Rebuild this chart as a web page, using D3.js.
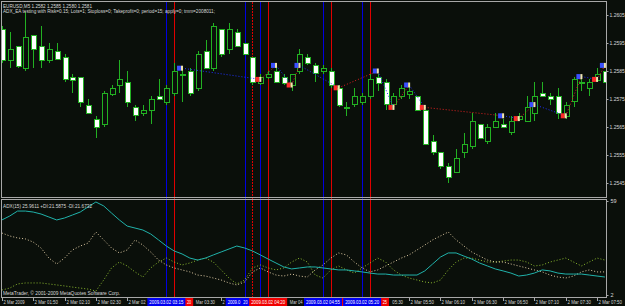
<!DOCTYPE html>
<html><head><meta charset="utf-8">
<script src="https://cdn.jsdelivr.net/npm/d3@7/dist/d3.min.js"></script>
<style>html,body{margin:0;padding:0;background:#0a0f0a;overflow:hidden}svg{display:block}</style>
</head><body>
<svg id="c" width="625" height="306"></svg>
<script>
// ---------- DATA ----------
const barCount = 78; // M5 bars, 2 Mar 2009 01:30 .. 07:55
const opens  = [1.2600,1.2589,1.2594,1.2586,1.2598,1.2594,1.2589,1.2592,1.2590,1.2583,1.2583,1.2573,1.2568,1.2566,1.2577,1.2580,1.2581,1.2572,1.2570,1.2571,1.2576,1.2574,1.2577,1.2584,1.2585,1.2579,1.2592,1.2586,1.2600,1.2593,1.2599,1.2595,1.2590,1.2581,1.2583,1.2585,1.2583,1.2580,1.2585,1.2590,1.2587,1.2585,1.2585,1.2579,1.2572,1.2573,1.2574,1.2576,1.2583,1.2581,1.2573,1.2576,1.2577,1.2576,1.2571,1.2560,1.2556,1.2551,1.2549,1.2556,1.2558,1.2566,1.2560,1.2565,1.2566,1.2563,1.2568,1.2567,1.2570,1.2577,1.2576,1.2576,1.2569,1.2574,1.2581,1.2579,1.2582,1.2585];
const highs  = [1.2601,1.2599,1.2594,1.2606,1.2598,1.2601,1.2595,1.2595,1.2591,1.2584,1.2583,1.2575,1.2569,1.2578,1.2580,1.2589,1.2585,1.2573,1.2573,1.2576,1.2582,1.2580,1.2588,1.2586,1.2586,1.2592,1.2596,1.2602,1.2600,1.2602,1.2600,1.2595,1.2590,1.2584,1.2585,1.2586,1.2584,1.2584,1.2593,1.2591,1.2588,1.2587,1.2586,1.2580,1.2574,1.2579,1.2577,1.2584,1.2584,1.2582,1.2577,1.2580,1.2580,1.2576,1.2571,1.2562,1.2556,1.2552,1.2557,1.2563,1.2570,1.2566,1.2566,1.2570,1.2568,1.2569,1.2570,1.2576,1.2581,1.2581,1.2577,1.2579,1.2574,1.2583,1.2582,1.2582,1.2586,1.2585];
const lows   = [1.2588,1.2586,1.2586,1.2585,1.2586,1.2586,1.2588,1.2589,1.2581,1.2577,1.2572,1.2570,1.2561,1.2565,1.2576,1.2577,1.2572,1.2567,1.2569,1.2566,1.2575,1.2573,1.2576,1.2574,1.2576,1.2578,1.2586,1.2585,1.2590,1.2591,1.2594,1.2591,1.2580,1.2580,1.2582,1.2581,1.2580,1.2578,1.2584,1.2587,1.2581,1.2584,1.2579,1.2572,1.2569,1.2572,1.2573,1.2575,1.2578,1.2571,1.2572,1.2575,1.2575,1.2571,1.2559,1.2555,1.2550,1.2545,1.2549,1.2554,1.2557,1.2561,1.2559,1.2565,1.2565,1.2562,1.2567,1.2567,1.2567,1.2576,1.2573,1.2568,1.2568,1.2572,1.2578,1.2576,1.2581,1.2581];
const closes = [1.2589,1.2593,1.2587,1.2597,1.2593,1.2589,1.2593,1.2589,1.2582,1.2582,1.2574,1.2570,1.2565,1.2577,1.2579,1.2582,1.2574,1.2569,1.2571,1.2575,1.2575,1.2579,1.2585,1.2584,1.2577,1.2591,1.2586,1.2601,1.2591,1.2600,1.2594,1.2591,1.2581,1.2583,1.2584,1.2581,1.2581,1.2584,1.2591,1.2588,1.2584,1.2586,1.2580,1.2573,1.2572,1.2576,1.2576,1.2582,1.2581,1.2573,1.2576,1.2579,1.2578,1.2571,1.2559,1.2556,1.2551,1.2547,1.2554,1.2559,1.2567,1.2561,1.2565,1.2567,1.2565,1.2567,1.2569,1.2572,1.2576,1.2576,1.2575,1.2570,1.2573,1.2582,1.2581,1.2581,1.2584,1.2581];

const timeLabelBars = [0,4,8,12,16,20,24,28,32,36,40,44,48,52,56,60,64,68,72,76];
const timeLabels = ["2 Mar 2009","2 Mar 01:50","2 Mar 02:10","2 Mar 02:30","2 Mar 02:50","2 Mar 03:10","2 Mar 03:30","2 Mar 03:50","2 Mar 04:10","2 Mar 04:30","2 Mar 04:50","2 Mar 05:10","2 Mar 05:30","2 Mar 05:50","2 Mar 06:10","2 Mar 06:30","2 Mar 06:50","2 Mar 07:10","2 Mar 07:30","2 Mar 07:50"];
const priceTicks = [1.2605,1.2595,1.2585,1.2575,1.2565,1.2555,1.2545];

// vertical marker lines (in drawing order)
const vlineBars   = [22,21,32,31,33,34,42,41,47,46];
const vlineColors = ["red","blue","red","blue","blue","red","red","blue","red","blue"];
const vlineLabels = ["2009.03.02 03:20","2009.03.02 03:15","2009.03.02 04:10","2009.03.02 04:05","2009.03.02 04:15","2009.03.02 04:20","2009.03.02 05:00","2009.03.02 04:55","2009.03.02 05:25","2009.03.02 05:20"];

// trade arrows (stop-and-reverse)
const tradeBars   = [23,33,35,37,38,43,48,50,52,54,64,66,68,72,74,76,77];
const tradePrices = [1.2586,1.2582,1.2587,1.2580,1.2587,1.2579,1.2585,1.2572,1.2580,1.2572,1.2569,1.2568,1.2573,1.2569,1.2583,1.2582,1.2587];
const tradeTypes  = ["buy","sell","buy","sell","buy","sell","buy","sell","buy","sell","buy","sell","buy","sell","buy","sell","buy"];

// ADX(15) indicator
const adx = [47.5,49.9,52.9,52.9,52.3,51.1,49.3,47.5,48.7,50.5,52.3,55.4,58.4,56.0,51.7,47.5,43.8,42.6,41.4,39.0,35.4,31.7,28.7,26.9,24.4,23.2,24.4,26.3,28.1,29.9,31.7,30.5,28.7,26.3,23.8,21.4,19.0,17.8,18.4,19.0,19.0,18.4,17.8,17.2,17.2,16.6,16.0,15.3,14.7,14.7,14.1,14.1,14.1,14.1,16.6,20.8,25.0,27.5,27.5,25.6,23.8,21.4,19.6,17.8,16.6,15.3,13.5,14.1,15.3,17.2,16.6,15.3,14.7,14.7,14.7,14.1,13.5,12.9];
const plusDI = [5.0,6.2,8.7,9.3,9.3,9.3,8.7,8.1,7.5,6.8,6.2,5.6,4.4,11.1,18.4,22.0,19.6,16.0,12.9,18.4,22.0,24.4,22.0,20.2,21.4,23.2,24.4,22.0,17.2,12.3,8.7,11.1,18.4,20.2,18.4,17.2,18.4,22.0,24.4,22.0,14.1,12.3,17.2,19.6,17.2,15.3,18.4,21.4,24.4,22.0,17.2,14.1,12.3,11.1,9.9,9.3,11.1,17.2,22.0,24.4,24.4,23.2,22.0,22.0,22.6,23.2,23.2,22.0,19.6,20.2,22.0,23.2,24.4,22.0,19.6,22.0,24.4,23.2];
const minusDI = [39.6,37.8,36.6,36.0,34.1,30.5,24.4,20.8,24.4,29.3,31.7,33.5,40.2,35.4,30.5,27.5,29.3,35.4,32.3,28.1,23.2,20.2,18.4,17.2,16.0,14.1,13.5,12.3,11.1,9.3,8.1,9.9,16.0,18.4,16.0,14.1,13.5,14.7,13.5,12.9,17.2,20.2,24.4,27.5,26.3,22.0,18.4,16.0,17.2,19.6,22.0,24.4,26.3,29.3,32.3,35.4,37.8,40.2,35.4,31.7,28.1,25.6,23.2,22.0,22.0,20.8,19.6,18.4,17.2,16.0,14.1,12.9,12.3,13.5,16.0,17.2,16.0,16.0];
const adxTicks = [59, 2];

// ---------- LAYOUT ----------
const W = 625, H = 306;
const L = 2, R = 606, mainTop = 2, mainBot = 197, subTop = 200, subBot = 297;
const svg = d3.select("#c");
svg.append("rect").attr("width",W).attr("height",H).attr("fill","#0a0f0a");

const x = d3.scaleLinear().domain([0, barCount-1]).range([1.9, 604.9]);
const y = d3.scaleLinear().domain([1.2605, 1.2545]).range([15, 183]);
const ya = d3.scaleLinear().domain([59, 2]).range([201, 295]);

const defs = svg.append("defs");
defs.append("clipPath").attr("id","cm").append("rect").attr("x",L).attr("y",mainTop).attr("width",R-L).attr("height",mainBot-mainTop);
defs.append("clipPath").attr("id","cs").append("rect").attr("x",L).attr("y",subTop).attr("width",R-L).attr("height",subBot-subTop);
defs.append("clipPath").attr("id","cv").append("rect").attr("x",L).attr("y",mainTop).attr("width",R-L).attr("height",subBot-mainTop);

const GREEN = "#22b022", BLUE = "#0000e0", RED = "#e00000", GREY = "#a8a8a8", TXT = "#d8d8d8";
const font = "Liberation Sans, DejaVu Sans, sans-serif";
const colorOf = c => c === "blue" ? BLUE : RED;

function label(g, x0, y0, str, len, opts = {}) {
  const t = g.append("text").attr("x", x0).attr("y", y0).text(str)
    .attr("fill", opts.fill || TXT).attr("font-size", (opts.size || 6) + "px").attr("font-family", font);
  if (len) t.attr("textLength", len).attr("lengthAdjust", "spacingAndGlyphs");
  if (opts.anchor) t.attr("text-anchor", opts.anchor);
  return t;
}
// draw only the characters of a label that are not hidden by later boxes
function visibleLabel(g, x0, y0, str, len, occluders, opts = {}) {
  const cw = len / str.length;
  const vis = Array.from(str, (ch, k) => {
    const a = x0 + k*cw, b = a + cw;
    return !occluders.some(o => b > o[0] + 0.3 && a < o[1] - 0.3);
  });
  let k = 0;
  while (k < str.length) {
    if (!vis[k]) { k++; continue; }
    let e = k; while (e < str.length && vis[e]) e++;
    let s0 = k, e0 = e;
    while (s0 < e0 && str[s0] === " ") s0++;
    while (e0 > s0 && str[e0-1] === " ") e0--;
    if (e0 > s0) label(g, x0 + s0*cw, y0, str.slice(s0, e0), (e0 - s0)*cw, opts);
    k = e;
  }
}

// vertical lines
const gv = svg.append("g").attr("clip-path","url(#cv)").attr("shape-rendering","crispEdges");
vlineBars.forEach((b,i) => {
  const xx = Math.round(x(b)) + 0.5;
  gv.append("line").attr("x1",xx).attr("x2",xx).attr("y1",mainTop).attr("y2",subBot)
    .attr("stroke", colorOf(vlineColors[i])).attr("stroke-width",1)
    .attr("stroke-dasharray", (b===32) ? "2,1" : null);
});

// candles
const gm = svg.append("g").attr("clip-path","url(#cm)").attr("shape-rendering","crispEdges");
const idx = d3.range(barCount);
gm.selectAll("line.wick").data(idx).join("line").attr("class","wick")
  .attr("x1", i => Math.round(x(i))+0.5).attr("x2", i => Math.round(x(i))+0.5)
  .attr("y1", i => y(highs[i])).attr("y2", i => y(lows[i]))
  .attr("stroke", GREEN);
gm.selectAll("rect.body").data(idx).join("rect").attr("class","body")
  .attr("x", i => Math.round(x(i)) - 2 + 0.5)
  .attr("width", 5)
  .attr("y", i => Math.round(y(Math.max(opens[i],closes[i]))) + 0.5)
  .attr("height", i => Math.max(1, Math.round(Math.abs(y(opens[i]) - y(closes[i])))))
  .attr("fill", i => closes[i] < opens[i] ? "#ffffff" : "#0a0f0a")
  .attr("stroke", GREEN);

// trade lines
const gt = svg.append("g").attr("clip-path","url(#cm)");
for (let i = 0; i < tradeBars.length - 1; i++) {
  gt.append("line")
    .attr("x1", x(tradeBars[i])).attr("y1", y(tradePrices[i]))
    .attr("x2", x(tradeBars[i+1])).attr("y2", y(tradePrices[i+1]))
    .attr("stroke", tradeTypes[i] === "buy" ? "#2030ff" : "#e02020")
    .attr("stroke-width", 1).attr("stroke-dasharray","1,2");
}
// trade arrows
tradeBars.forEach((b,i) => {
  const cx = x(b) - 2, cy = y(tradePrices[i]);
  const c = tradeTypes[i] === "buy" ? "#3a50ff" : "#ff2a2a";
  gt.append("rect").attr("x", cx-3).attr("y", cy-2.5).attr("width",4).attr("height",5).attr("fill", c);
  gt.append("rect").attr("x", cx+1).attr("y", cy-2.5).attr("width",2).attr("height",5).attr("fill", "#f0e6b0");
});

// ADX panel
const gs = svg.append("g").attr("clip-path","url(#cs)");
const lineA = d3.line().x((d,i) => x(i)).y(d => ya(d));
gs.append("path").datum(plusDI).attr("d", lineA).attr("fill","none").attr("stroke","#9acd32").attr("stroke-width",0.9).attr("stroke-dasharray","1,2");
gs.append("path").datum(minusDI).attr("d", lineA).attr("fill","none").attr("stroke","#f5deb3").attr("stroke-width",0.9).attr("stroke-dasharray","1,2");
gs.append("path").datum(adx).attr("d", lineA).attr("fill","none").attr("stroke","#20b2aa");

// frames
const gf = svg.append("g").attr("shape-rendering","crispEdges");
gf.append("rect").attr("x",1.5).attr("y",1.5).attr("width",R-1.5).attr("height",mainBot-1.5).attr("fill","none").attr("stroke",GREY);
gf.append("rect").attr("x",1.5).attr("y",199.5).attr("width",R-1.5).attr("height",subBot-199.5).attr("fill","none").attr("stroke",GREY);

// price axis
const yAxis = d3.axisRight(y).tickValues(priceTicks).tickFormat(d3.format(".4f")).tickSize(2).tickPadding(1);
const ga = svg.append("g").attr("transform",`translate(${R+0.5},0)`).call(yAxis);
ga.select(".domain").remove();
ga.selectAll("line").attr("stroke",GREY);
ga.selectAll("text").attr("fill",TXT).attr("font-size","5px").attr("font-family",font);

const aAxis = d3.axisRight(ya).tickValues(adxTicks).tickFormat(d3.format("d")).tickSize(2).tickPadding(2);
const gaa = svg.append("g").attr("transform",`translate(${R+0.5},0)`).call(aAxis);
gaa.select(".domain").remove();
gaa.selectAll("line").attr("stroke",GREY);
gaa.selectAll("text").attr("fill",TXT).attr("font-size","5.5px").attr("font-family",font);

// time axis
const boxes = vlineBars.map(b => [x(b) - 19, x(b) + 19]);
const gx = svg.append("g");
timeLabelBars.forEach((b,i) => {
  const xx = Math.round(x(b)) + 0.5;
  gx.append("line").attr("x1",xx).attr("x2",xx).attr("y1",subBot).attr("y2",subBot+4).attr("stroke",GREY);
  visibleLabel(gx, xx + 1, 303.5, timeLabels[i], i === 0 ? 21 : 23.5, boxes, {size: 5.5});
});
// time labels of vertical lines
vlineBars.forEach((b,i) => {
  const xx = x(b);
  gx.append("rect").attr("x", xx-19).attr("y", 298).attr("width",38).attr("height",8)
    .attr("fill", vlineColors[i]==="blue" ? "#0000f0" : "#f00000");
});
vlineBars.forEach((b,i) => {
  const xx = x(b);
  visibleLabel(gx, xx - 17, 304, vlineLabels[i], 34, boxes.slice(i+1), {size: 5.5, fill: "#ffffff"});
});

// header texts
label(svg, 3, 7.5, "EURUSD,M5  1.2582 1.2585 1.2580 1.2581", 89, {size: 6});
label(svg, 3, 13, "ADX_EA testing with Risk=0.15; Lots=1; Stoploss=0; Takeprofit=0; period=15; apply=0; tmm=2008011;", 212, {size: 6});
label(svg, 3, 207.5, "ADX(15) 25.9611 +DI:21.5875 -DI:21.6732", 89, {size: 6});
label(svg, 3, 295, "MetaTrader, © 2001-2009 MetaQuotes Software Corp.", 117, {size: 6});
</script>
</body></html>
